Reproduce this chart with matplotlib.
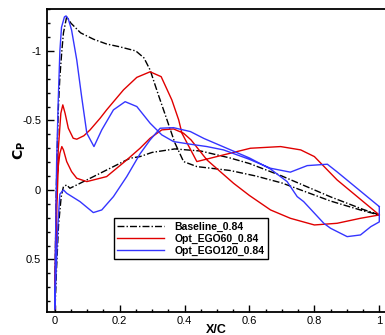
import matplotlib
matplotlib.use("Agg")
import matplotlib.pyplot as plt
from matplotlib.ticker import MultipleLocator, FormatStrFormatter

plt.rcParams['font.family'] = ['Liberation Sans', 'DejaVu Sans']

# surface Cp, each series traced as one loop: lower TE -> LE -> upper TE
base_x = [1.0, 0.95, 0.85, 0.7, 0.6, 0.54, 0.45, 0.37, 0.3, 0.263, 0.232, 0.181, 0.14, 0.099,
          0.068, 0.047, 0.037, 0.027, 0.02, 0.012, 0.006, 0.002, 0.0,
          0.002, 0.005, 0.008, 0.011, 0.016, 0.022, 0.027, 0.037, 0.05, 0.08, 0.12, 0.16,
          0.2, 0.25, 0.275, 0.294, 0.32, 0.346, 0.37, 0.397, 0.438, 0.54, 0.62, 0.7,
          0.85, 0.95, 1.0]
base_cp = [0.18, 0.14, 0.05, -0.1, -0.19, -0.23, -0.28, -0.295, -0.27, -0.24, -0.228, -0.168, -0.12, -0.072,
           -0.036, -0.012, -0.036, -0.024, 0.05, 0.25, 0.55, 0.8, 0.87,
           0.5, 0.0, -0.3, -0.576, -0.815, -1.0, -1.13, -1.247, -1.2, -1.13, -1.084, -1.05,
           -1.03, -1.0, -0.95, -0.863, -0.68, -0.504, -0.34, -0.204, -0.168, -0.14, -0.1, -0.05,
           0.08, 0.15, 0.18]

ego60_x = [1.0, 0.942, 0.87, 0.8, 0.726, 0.665, 0.6, 0.551, 0.469, 0.42, 0.397, 0.366, 0.33,
           0.294, 0.263, 0.222, 0.16, 0.099, 0.068, 0.052, 0.037, 0.027, 0.022, 0.016, 0.011,
           0.007, 0.003, 0.0,
           0.004, 0.011, 0.019, 0.025, 0.032, 0.042, 0.057, 0.068, 0.09, 0.109, 0.14, 0.16,
           0.212, 0.253, 0.294, 0.328, 0.361, 0.382, 0.392, 0.438, 0.52, 0.603, 0.696, 0.758,
           0.8, 0.87, 1.0]
ego60_cp = [0.18, 0.204, 0.24, 0.252, 0.204, 0.144, 0.04, -0.048, -0.216, -0.36, -0.408, -0.439, -0.432,
            -0.372, -0.3, -0.216, -0.096, -0.06, -0.084, -0.132, -0.204, -0.288, -0.312, -0.264, -0.168,
            0.1, 0.5, 0.86,
            0.144, -0.288, -0.552, -0.612, -0.552, -0.444, -0.372, -0.365, -0.39, -0.432, -0.516, -0.576,
            -0.72, -0.81, -0.85, -0.815, -0.647, -0.504, -0.408, -0.204, -0.252, -0.3, -0.312, -0.288,
            -0.24, -0.072, 0.18]

ego120_x = [1.0, 1.0, 0.974, 0.942, 0.901, 0.85, 0.829, 0.767, 0.747, 0.716, 0.665, 0.6, 0.52,
            0.46, 0.418, 0.366, 0.325, 0.294, 0.263, 0.222, 0.181, 0.145, 0.119, 0.078, 0.037,
            0.027, 0.016, 0.01, 0.005, 0.0,
            0.003, 0.006, 0.011, 0.016, 0.021, 0.03, 0.035, 0.042, 0.052, 0.068, 0.083, 0.099,
            0.121, 0.145, 0.181, 0.217, 0.253, 0.294, 0.33, 0.366, 0.418, 0.469, 0.52, 0.6,
            0.665, 0.726, 0.778, 0.84, 0.87, 1.0]
ego120_cp = [0.12, 0.23, 0.264, 0.324, 0.336, 0.276, 0.24, 0.084, 0.048, -0.06, -0.15, -0.23, -0.31,
             -0.37, -0.42, -0.448, -0.444, -0.36, -0.26, -0.096, 0.048, 0.144, 0.163, 0.084, 0.024,
             0.0, 0.03, 0.25, 0.55, 0.86,
             0.3, -0.2, -0.647, -1.0, -1.17, -1.245, -1.252, -1.23, -1.151, -0.935, -0.671, -0.408,
             -0.312, -0.432, -0.576, -0.635, -0.6, -0.48, -0.396, -0.348, -0.329, -0.312, -0.288, -0.22,
             -0.156, -0.128, -0.175, -0.185, -0.13, 0.12]

labels = ['Baseline_0.84', 'Opt_EGO60_0.84', 'Opt_EGO120_0.84']

fig = plt.figure(figsize=(3.85, 3.35), dpi=100)
ax = fig.add_axes([0.1213, 0.0696, 0.8917, 0.9036])

ax.plot(base_x, base_cp, color='black', lw=1.0, dashes=(5, 1.5, 1, 1.5), label=labels[0])
ax.plot(ego60_x, ego60_cp, color='#e00000', lw=1.0, label=labels[1])
ax.plot(ego120_x, ego120_cp, color='#3535ff', lw=1.0, label=labels[2])

ax.set_xlim(-0.0246, 1.033)
ax.set_ylim(0.876, -1.302)

ax.xaxis.set_major_locator(MultipleLocator(0.2))
ax.xaxis.set_minor_locator(MultipleLocator(0.05))
ax.yaxis.set_major_locator(MultipleLocator(0.5))
ax.yaxis.set_minor_locator(MultipleLocator(0.1))
ax.xaxis.set_major_formatter(FormatStrFormatter('%g'))
ax.yaxis.set_major_formatter(FormatStrFormatter('%g'))
ax.tick_params(which='both', direction='in', top=False, right=False, width=1.0, labelsize=8)
ax.tick_params(axis='x', which='major', length=5, pad=3)
ax.tick_params(axis='y', which='major', length=5, pad=4)
ax.tick_params(which='minor', length=2.5)

for s in ['left', 'bottom', 'top']:
    ax.spines[s].set_linewidth(1.3)
ax.spines['right'].set_visible(False)

ax.set_xlabel('X/C', fontsize=9, fontweight='bold')
ax.set_ylabel(r'$\mathbf{C_P}$', fontsize=10)
ax.xaxis.set_label_coords(0.493, -0.040)
ax.yaxis.set_label_coords(-0.0545, 0.534)

leg = ax.legend(loc='upper left', bbox_to_anchor=(0.196, 0.3086), borderaxespad=0,
                prop={'size': 7.5, 'weight': 'bold'}, handlelength=4.5, handletextpad=1.0,
                borderpad=0.3, labelspacing=0.2, fancybox=False, framealpha=1, edgecolor='black')
leg.get_frame().set_linewidth(1.0)

fig.savefig('out.png', dpi=100)
